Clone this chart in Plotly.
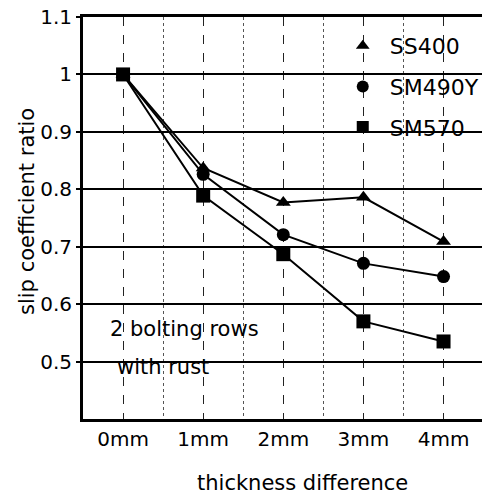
import plotly.graph_objects as go

categories = ["0mm", "1mm", "2mm", "3mm", "4mm"]
ss400 = [1.0, 0.837, 0.777, 0.786, 0.709]
sm490y = [1.0, 0.826, 0.721, 0.671, 0.648]
sm570 = [1.0, 0.789, 0.687, 0.570, 0.535]
y_ticks = [0.5, 0.6, 0.7, 0.8, 0.9, 1.0, 1.1]
y_tick_labels = ["0.5", "0.6", "0.7", "0.8", "0.9", "1", "1.1"]

xpos = list(range(len(categories)))
FONT = "DejaVu Sans, Arial, sans-serif"

series = [
    ("SS400", ss400, "triangle-up", 13),
    ("SM490Y", sm490y, "circle", 13),
    ("SM570", sm570, "square", 14),
]

fig = go.Figure()
for name, vals, sym, sz in series:
    fig.add_trace(go.Scatter(
        x=xpos, y=vals, mode="lines+markers", name=name, showlegend=False,
        line=dict(color="black", width=2),
        marker=dict(symbol=sym, size=sz, color="black"),
    ))
for name, vals, sym, sz in series:
    fig.add_trace(go.Scatter(
        x=[None], y=[None], mode="markers", name="\u00a0" + name, legendgroup=name,
        marker=dict(symbol=sym, size=sz, color="black"),
    ))

fig.update_layout(
    width=484, height=496,
    margin=dict(l=83, r=0, t=17, b=77),
    paper_bgcolor="white", plot_bgcolor="white",
    font=dict(family=FONT, color="black", size=20),
    showlegend=True,
    legend=dict(x=0.651, y=0.98, xanchor="left", yanchor="top",
                bgcolor="rgba(0,0,0,0)", font=dict(size=22),
                tracegroupgap=9, itemsizing="constant"),
    xaxis=dict(
        range=[-0.5, 4.48], tickmode="array", tickvals=xpos, ticktext=categories,
        showline=True, linecolor="black", linewidth=3, mirror=True,
        showgrid=True, gridcolor="#222", gridwidth=1, griddash="dash",
        ticks="", tickfont=dict(size=20), zeroline=False,
        minor=dict(tickvals=[0.5, 1.5, 2.5, 3.5], showgrid=True,
                   gridcolor="#555", gridwidth=1, griddash="dot"),
    ),
    yaxis=dict(
        range=[0.4, 1.1], tickmode="array", tickvals=y_ticks, ticktext=y_tick_labels,
        showline=True, linecolor="black", linewidth=3,
        showgrid=True, gridcolor="black", gridwidth=2,
        ticks="outside", ticklen=4, tickwidth=2, tickcolor="black",
        tickfont=dict(size=20), zeroline=False,
    ),
)

fig.add_annotation(text="slip coefficient ratio", xref="paper", yref="paper",
                   x=-0.14, y=0.5153, xanchor="center", yanchor="middle", textangle=-90,
                   showarrow=False, font=dict(size=21))
fig.add_annotation(text="thickness difference", xref="paper", yref="paper",
                   x=0.551, y=-0.159, xanchor="center", yanchor="middle",
                   showarrow=False, font=dict(size=21))
fig.add_annotation(text="2 bolting rows", xref="paper", yref="y",
                   x=0.062, y=0.557, xanchor="left", yanchor="middle",
                   showarrow=False, font=dict(size=21))
fig.add_annotation(text="with rust", xref="paper", yref="y",
                   x=0.080, y=0.491, xanchor="left", yanchor="middle",
                   showarrow=False, font=dict(size=21))

fig.write_html("out.html")
